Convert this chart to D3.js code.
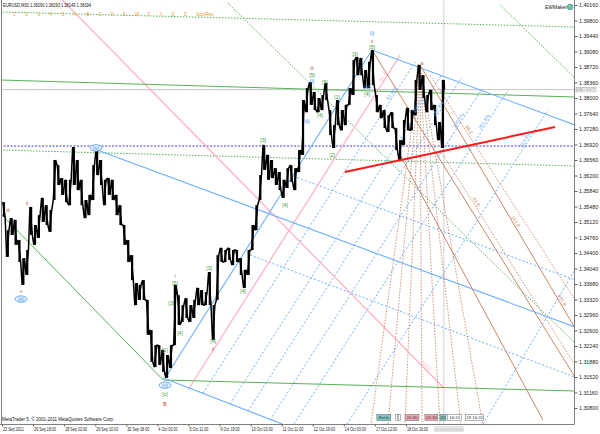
<!DOCTYPE html>
<html><head><meta charset="utf-8">
<script src="https://cdn.jsdelivr.net/npm/d3@7"></script>
<style>html,body{margin:0;padding:0;background:#fff;}svg{display:block;font-family:"Liberation Sans",Arial,sans-serif;}</style>
</head><body><svg id="c" width="600" height="434"></svg>
<script>
// ---------------- DATA ----------------
const symbolTitle = "EURUSD,M30  1.38290 1.38293 1.38149 1.38194";
const lastPrice = 1.38194;
const barsPerBucket = 8; // each entry = 8 M30 bars (4 hours)
const highs = [1.3558,1.3493,1.3521,1.3517,1.3470,1.3428,1.3447,1.3547,1.3505,1.3528,
1.3568,1.3551,1.3540,1.3656,1.3644,1.3614,1.3610,1.3610,1.3686,1.3656,
1.3610,1.3563,1.3575,1.3644,1.3679,1.3656,1.3610,1.3614,1.3610,1.3575,
1.3551,1.3505,1.3470,1.3435,1.3370,1.3366,1.3377,1.3331,1.3261,1.3226,
1.3226,1.3215,1.3203,1.3226,1.3366,1.3342,1.3319,1.3335,1.3319,1.3331,
1.3359,1.3354,1.3349,1.3396,1.3319,1.3435,1.3452,1.3447,1.3452,1.3447,
1.3447,1.3428,1.3401,1.3447,1.3505,1.3551,1.3621,1.3691,1.3668,1.3656,
1.3637,1.3628,1.3610,1.3637,1.3644,1.3637,1.3679,1.3795,1.3823,1.3837,
1.3814,1.3800,1.3807,1.3835,1.3772,1.3737,1.3795,1.3772,1.3784,1.3823,
1.3888,1.3895,1.3893,1.3865,1.3884,1.3911,1.3807,1.3784,1.3772,1.3760,
1.3767,1.3730,1.3702,1.3749,1.3777,1.3772,1.3842,1.3877,1.3853,1.3807,
1.3819,1.3784,1.3744,1.3842];
const lows = [1.3524,1.3431,1.3482,1.3459,1.3419,1.3366,1.3389,1.3482,1.3459,1.3475,
1.3512,1.3505,1.3489,1.3563,1.3598,1.3575,1.3558,1.3551,1.3598,1.3586,
1.3551,1.3521,1.3528,1.3563,1.3621,1.3598,1.3551,1.3575,1.3563,1.3528,
1.3505,1.3459,1.3419,1.3377,1.3319,1.3331,1.3331,1.3250,1.3187,1.3175,
1.3180,1.3164,1.3150,1.3173,1.3226,1.3273,1.3280,1.3289,1.3280,1.3289,
1.3319,1.3319,1.3319,1.3319,1.3238,1.3331,1.3419,1.3419,1.3424,1.3412,
1.3419,1.3389,1.3359,1.3389,1.3447,1.3493,1.3563,1.3633,1.3610,1.3614,
1.3598,1.3586,1.3568,1.3591,1.3605,1.3586,1.3628,1.3668,1.3767,1.3784,
1.3772,1.3767,1.3772,1.3795,1.3714,1.3684,1.3737,1.3725,1.3737,1.3784,
1.3807,1.3853,1.3853,1.3823,1.3823,1.3830,1.3767,1.3753,1.3730,1.3721,
1.3730,1.3679,1.3656,1.3691,1.3725,1.3725,1.3760,1.3819,1.3800,1.3767,
1.3772,1.3737,1.3702,1.3684];
const timeTickBars = [0,64,128,192,256,320,384,448,512,576,640,704,768,832];
const timeTickLabels = ["23 Sep 2011","26 Sep 18:00","28 Sep 02:00","29 Sep 10:00","30 Sep 18:00","4 Oct 03:00","5 Oct 11:00","6 Oct 19:00","10 Oct 03:00","11 Oct 11:00","12 Oct 19:00","14 Oct 03:00","17 Oct 12:00","18 Oct 20:00"];
const priceTicks = [1.40160,1.39800,1.39440,1.39080,1.38720,1.38360,1.38000,1.37640,1.37280,1.36920,1.36560,1.36200,1.35840,1.35480,1.35120,1.34760,1.34400,1.34040,1.33680,1.33320,1.32960,1.32600,1.32240,1.31880,1.31520,1.31160,1.30800];
const cursorBar = 910;
const cursorTimeLabel = "20 Oct 2011 16:30";

// objects: [bar1, price1, bar2, price2]
const greenSolidLines = [[-4,1.38418,1180,1.38023],[-4,1.35329,332,1.31450],[332,1.31450,1180,1.31195]];
const greenDottedLines = [[-4,1.39997,1180,1.39649],[-4,1.36792,1180,1.36420],[465,1.40206,1180,1.32310],[1026,1.40160,1180,1.38464]];
const navyDottedLines = [[-4,1.36885,1180,1.36885]];
const blueSolidLines = [[196,1.36792,1180,1.32681],[336,1.31497,762,1.39115],[762,1.39115,1180,1.37373],[332,1.31497,577,1.30428]];
const blueFibLines = [[414,1.31148,850.6,1.38836],[469.6,1.30893,906.2,1.38557],[506.7,1.30730,947.4,1.38488],[552,1.30521,988.6,1.38209],[601.4,1.30428,1042.2,1.38186],[710.6,1.30428,1124.5,1.37721],[990.7,1.30428,1180,1.34005]];
const blueFibLabels = ["61.8","100.0","161.8","200.0","261.8","423.6",""];
const blueDottedLines = [[593,1.36211,1180,1.33773],[511,1.34353,1180,1.31520]];
const pinkLines = [[124,1.40276,908,1.31288],[383,1.31218,820,1.38999]];
const brownSolidLines = [[762,1.39115,1180,1.31520],[861,1.38766,1180,1.32658],[820,1.36676,1114,1.30521]];
const brownFanOrigin = [860.9,1.38720];
const brownFanEndBars = [760,795,830,865,902,945,990];
const brownFanEndPrice = 1.30428;
const brownDottedLines = [[881.5,1.38534,1180,1.33308],[902.1,1.36792,1180,1.31799]];
const redLines = [[706,1.36281,1139,1.37326]];

const brownWaveLabels = [[12.4,1.3540,"iii"],[51.5,1.3556,"ii"],[39.1,1.3352,"v"],[356.3,1.3387,"i"],[434.6,1.3217,"ii"],[638.5,1.3870,"iii"],[762.1,1.3932,"v"],[865,1.3881,"a"]];
const redWaveLabels = [[335.7,1.3089,"B"]];
const blueWaveLabels = [[39.1,1.3333,"(iii)"],[193.6,1.3684,"(iv)"],[335.7,1.3133,"(v)"],[628.2,1.3747,"(ii)"],[638.5,1.3839,"(i)"],[762.1,1.3951,"(i)"],[751.8,1.3826,"(iv)"]];
const greenWaveLabels = [[335.7,1.3215,"[1]"],[348.1,1.3324,"[3]"],[366.6,1.3254,"[4]"],[356.3,1.3370,"[5]"],[335.7,1.3113,"[c]"],[426.4,1.3405,"[3]"],[434.6,1.3236,"[4]"],[496.4,1.3352,"[4]"],[537.6,1.3702,"[3]"],[582.9,1.3551,"[4]"],[638.5,1.3853,"[5]"],[655,1.3761,"[4]"],[665.3,1.3837,"[5]"],[690,1.3802,"[1]"],[679.7,1.3668,"[2]"],[727,1.3902,"[3]"],[762.1,1.3918,"[5]"],[751.8,1.3809,"[4]"]];
const toolbarLabels = ["1","2","3","4","5","A","B","C","D","E","W","X","Y","Z","S","Sup/Res"];
const toolBoxes = [{t:"Ext.b",bar:772,w:14,kind:"teal"},{t:"",bar:811,w:2,kind:"white"},{t:"",bar:817,w:2,kind:"white"},{t:"20:30",bar:830,w:14,kind:"pink"},{t:"20:30",bar:871,w:13,kind:"pink"},{t:"20",bar:902,w:6,kind:"teal"},{t:"16:20",bar:918,w:14,kind:"white"},{t:"18 16:20",bar:955,w:18,kind:"white"}];

// ---------------- DRAW ----------------
const plot = {left:2, right:574, top:0, bottom:424};
const x = d3.scaleLinear().domain([0,1176]).range([2,573]);
const y = d3.scaleLinear().domain([1.3080,1.4016]).range([408,5]);
const svg = d3.select('#c');
svg.append('rect').attr('width',600).attr('height',434).attr('fill','#fff');
svg.append('defs').append('clipPath').attr('id','clip').append('rect')
  .attr('x',plot.left).attr('y',plot.top).attr('width',plot.right-plot.left).attr('height',plot.bottom-plot.top);
const g = svg.append('g').attr('clip-path','url(#clip)');

const C = {green:'#55b455', blue:'#6ab0ff', navy:'#3a3ad8', pink:'#ffb3c3', brown:'#c8876a', red:'#ff1a1a', gray:'#c4c4c4'};

function drawLines(data, stroke, width, dash){
  g.selectAll(null).data(data).enter().append('line')
    .attr('x1',d=>x(d[0])).attr('y1',d=>y(d[1])).attr('x2',d=>x(d[2])).attr('y2',d=>y(d[3]))
    .attr('stroke',stroke).attr('stroke-width',width).attr('stroke-dasharray',dash||null);
}
function squeeze(sel, k){
  sel.each(function(){ const L=this.getComputedTextLength(); if(L>0){ d3.select(this).attr('textLength',L*k).attr('lengthAdjust','spacingAndGlyphs'); } });
}

// current price line & cursor
drawLines([[-10,lastPrice,1200,lastPrice]], C.gray, 1);
g.append('line').attr('x1',x(cursorBar)).attr('x2',x(cursorBar)).attr('y1',plot.top).attr('y2',plot.bottom).attr('stroke','#d0d0d0').attr('stroke-width',1);

drawLines(greenDottedLines, C.green, 1, '1.5,1.5');
drawLines(navyDottedLines, C.navy, 1, '2,1.5');
drawLines(blueDottedLines, C.blue, 1, '2,2');
drawLines(blueFibLines, C.blue, 1, '2,2');
drawLines(pinkLines, C.pink, 1.3);
drawLines(greenSolidLines, C.green, 1);
drawLines(blueSolidLines, C.blue, 1.1);
const fan = brownFanEndBars.map(b=>[brownFanOrigin[0],brownFanOrigin[1],b,brownFanEndPrice]);
drawLines(fan, C.brown, 0.9, '1.5,1.5');
drawLines(brownDottedLines, C.brown, 0.9, '1.5,1.5');
drawLines(brownSolidLines, C.brown, 1);

// price series
const bucketBar = i => barsPerBucket*i + barsPerBucket/2;
const pts = [];
highs.forEach((h,i)=>{
  const l = lows[i], cx = x(bucketBar(i)), mid=(h+l)/2;
  const next = i<highs.length-1 ? (highs[i+1]+lows[i+1])/2 : lastPrice;
  if(next>=mid){ pts.push([cx-1.2,y(l)],[cx+1.2,y(h)]); } else { pts.push([cx-1.2,y(h)],[cx+1.2,y(l)]); }
});
pts.push([x(bucketBar(highs.length-1))+1.6, y(lastPrice)]);
g.append('path').attr('d',d3.line()(pts)).attr('fill','none').attr('stroke','#000').attr('stroke-width',1.5).attr('stroke-linejoin','bevel');
g.selectAll(null).data(highs).enter().append('line')
  .attr('x1',(d,i)=>x(bucketBar(i))).attr('x2',(d,i)=>x(bucketBar(i)))
  .attr('y1',d=>y(d)).attr('y2',(d,i)=>y(lows[i])).attr('stroke','#000').attr('stroke-width',2.2);

drawLines(redLines, C.red, 2);

// rotated labels on lines
function lineLabel(d, t, text, color){
  const x1=x(d[0]),y1=y(d[1]),x2=x(d[2]),y2=y(d[3]);
  const px=x1+(x2-x1)*t, py=y1+(y2-y1)*t;
  let ang=Math.atan2(y2-y1,x2-x1)*180/Math.PI;
  if(ang>90) ang-=180; if(ang<-90) ang+=180;
  g.append('text').attr('transform',`translate(${px},${py}) rotate(${ang})`).attr('dy',-1.5)
   .attr('text-anchor','middle').attr('font-size',5).attr('fill',color).text(text);
}
blueFibLines.forEach((d,i)=>{ if(blueFibLabels[i]) lineLabel(d,0.9,blueFibLabels[i]+"%",C.blue); });
lineLabel(brownSolidLines[1],0.6,"161.8",C.brown);
lineLabel(brownSolidLines[1],0.9,"261.8",C.brown);
lineLabel(brownDottedLines[0],0.25,"38.2",C.brown);
lineLabel(brownDottedLines[1],0.25,"61.8",C.brown);
lineLabel(pinkLines[0],0.95,"100.0",C.pink);
lineLabel(pinkLines[1],0.93,"61.8",C.pink);

// wave labels
function waveLabels(data,color,circled){
  const s=g.selectAll(null).data(data).enter().append('g').attr('transform',d=>`translate(${x(d[0])},${y(d[1])})`);
  if(circled) s.filter((d,i)=>i<3).append('ellipse').attr('rx',6).attr('ry',3.2).attr('fill','#e8f2ff').attr('stroke',color).attr('stroke-width',0.7);
  s.append('text').attr('text-anchor','middle').attr('dominant-baseline','central').attr('font-size',5).attr('fill',color).text(d=>d[2]);
}
waveLabels(brownWaveLabels,'#b0603c');
waveLabels(redWaveLabels,'#e02020');
waveLabels(blueWaveLabels,'#3d8ee8',true);
waveLabels(greenWaveLabels,'#3a9a3a');

// frame & axes
svg.append('line').attr('x1',1.5).attr('x2',1.5).attr('y1',0).attr('y2',plot.bottom).attr('stroke','#808080');
svg.append('line').attr('x1',0).attr('x2',plot.right+0.5).attr('y1',plot.bottom+0.5).attr('y2',plot.bottom+0.5).attr('stroke','#808080');
svg.append('line').attr('x1',plot.right+0.5).attr('x2',plot.right+0.5).attr('y1',0).attr('y2',plot.bottom+0.5).attr('stroke','#808080');

const ya = svg.append('g').attr('transform',`translate(${plot.right+0.5},0)`)
  .call(d3.axisRight(y).tickValues(priceTicks).tickFormat(d3.format('.5f')).tickSize(3).tickPadding(1.5));
ya.select('.domain').remove();
ya.selectAll('line').attr('stroke','#606060');
ya.selectAll('text').attr('font-size',5.3).attr('fill','#222').attr('font-family','Liberation Sans, Arial, sans-serif');

const tickScale = d3.scaleOrdinal().domain(timeTickBars).range(timeTickLabels);
const xa = svg.append('g').attr('transform',`translate(0,${plot.bottom+0.5})`)
  .call(d3.axisBottom(x).tickValues(timeTickBars).tickFormat(d=>tickScale(d)).tickSize(2).tickPadding(1));
xa.select('.domain').remove();
xa.selectAll('line').attr('stroke','#606060');
xa.selectAll('text').attr('font-size',5).attr('fill','#222').attr('text-anchor','start').attr('dx',0.5)
  .attr('font-family','Liberation Sans, Arial, sans-serif');
squeeze(xa.selectAll('text'),0.74);

// cursor time box on axis
svg.append('rect').attr('x',x(cursorBar)-10).attr('y',plot.bottom+2).attr('width',30).attr('height',6).attr('fill','#e6e6e6');
const ct = svg.append('text').attr('x',x(cursorBar)+5).attr('y',plot.bottom+5.2).attr('text-anchor','middle').attr('dominant-baseline','central')
  .attr('font-size',4.4).attr('fill','#c0c0c0').text(cursorTimeLabel);
ct.attr('textLength',28).attr('lengthAdjust','spacingAndGlyphs');

// current price box
svg.append('rect').attr('x',plot.right+1.5).attr('y',y(lastPrice)-2.6).attr('width',21).attr('height',5.2).attr('fill','#c4c4c4');
svg.append('text').attr('x',plot.right+3).attr('y',y(lastPrice)).attr('dominant-baseline','central')
  .attr('font-size',5.3).attr('fill','#fff').text(d3.format('.5f')(lastPrice));

// tool time boxes
const boxFill = {teal:'#7fc8c4', pink:'#f0a8b4', white:'#ffffff'};
toolBoxes.forEach(b=>{
  const bx=x(b.bar);
  svg.append('rect').attr('x',bx).attr('y',414.5).attr('width',b.w).attr('height',6).attr('fill',boxFill[b.kind]).attr('stroke','#666').attr('stroke-width',0.5);
  if(b.t){ const t=svg.append('text').attr('x',bx+b.w/2).attr('y',417.6).attr('text-anchor','middle').attr('dominant-baseline','central').attr('font-size',4.3).attr('fill','#333').text(b.t);
    const L=t.node().getComputedTextLength(); if(L>b.w-1) t.attr('textLength',b.w-1).attr('lengthAdjust','spacingAndGlyphs'); }
});

// header texts
const ht = svg.append('text').attr('x',3).attr('y',7).attr('font-size',5).attr('fill','#111').text(symbolTitle);
squeeze(ht,0.8);
svg.append('g').selectAll('text').data(toolbarLabels).enter().append('text')
  .attr('x',(d,i)=>i<15 ? 13+i*12.2 : 196).attr('y',15.5).attr('font-size',4.6).attr('fill','#f09a30').text(d=>d);
svg.append('text').attr('x',545).attr('y',9).attr('font-size',5).attr('fill','#222').text('EWMaker');
svg.append('circle').attr('cx',570).attr('cy',7).attr('r',2.8).attr('fill','#7cc47c').attr('stroke','#3d8ee8').attr('stroke-width',0.8);
const cp = svg.append('text').attr('x',2).attr('y',421).attr('font-size',5).attr('fill','#111').text('MetaTrader 5, © 2001-2011 MetaQuotes Software Corp.');
squeeze(cp,0.9);
</script></body></html>
